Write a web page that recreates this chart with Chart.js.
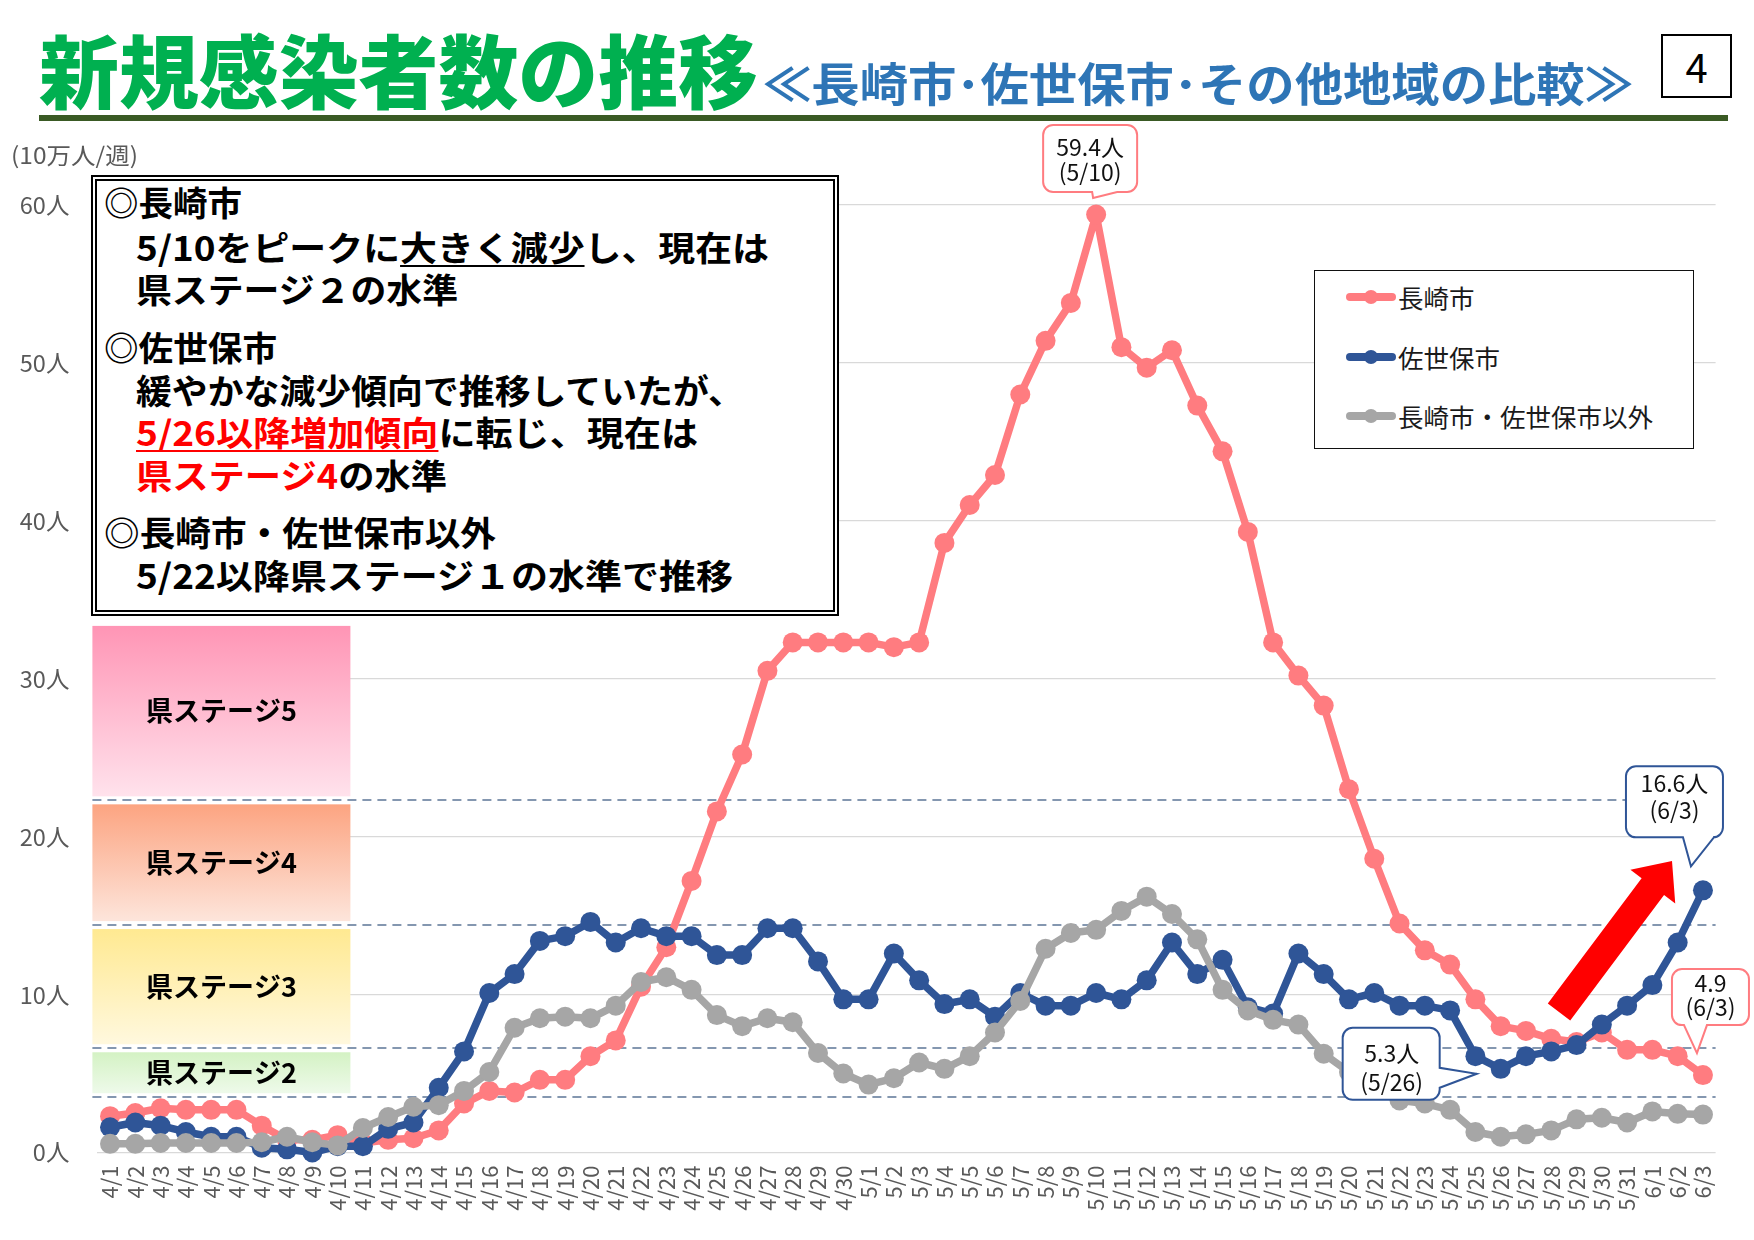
<!DOCTYPE html>
<html>
<head>
<meta charset="utf-8">
<script src="https://cdn.jsdelivr.net/npm/chart.js@4.4.0/dist/chart.umd.min.js"></script>
<style>
html,body{margin:0;padding:0;background:#fff;}
#wrap{position:relative;width:1754px;height:1240px;overflow:hidden;font-family:"Noto Sans CJK JP","Noto Sans",sans-serif;background:#fff;}
#c{position:absolute;left:0;top:0;}
.abs{position:absolute;white-space:nowrap;transform-origin:0 50%;}
.tl{font-size:34px;line-height:34px;font-weight:700;color:#000;}
.red{color:#ff0000;}
.ul{text-decoration:underline;text-decoration-thickness:2px;text-underline-offset:4px;}
#tbox{position:absolute;left:91px;top:175px;width:748px;height:441px;box-sizing:border-box;border:6px double #000;background:#fff;}
#pgnum{position:absolute;left:1661px;top:34px;width:71px;height:64px;box-sizing:border-box;border:2px solid #000;font-size:40px;line-height:60px;text-align:center;color:#000;background:#fff;}
#rule{position:absolute;left:39px;top:115px;width:1689px;height:6px;background:#3a5a24;}
#legend{position:absolute;left:1314px;top:270px;width:380px;height:179px;box-sizing:border-box;border:1.5px solid #111;background:#fff;}
.lg-line{position:absolute;left:1346px;width:50px;height:8px;border-radius:4px;}
.lg-dot{position:absolute;left:1364px;width:14px;height:14px;border-radius:7px;}
.lg-txt{position:absolute;left:1398px;font-size:25.5px;line-height:26px;color:#1a1a1a;white-space:nowrap;}
</style>
</head>
<body>
<div id="wrap">
<canvas id="c" width="1754" height="1240"></canvas>

<div class="abs fit" data-w="719" style="left:39px;top:27px;font-size:80px;line-height:80px;font-weight:900;color:#00b050;">新規感染者数の推移</div>
<div class="abs fit" data-w="870" style="left:763px;top:58px;font-size:46px;line-height:46px;font-weight:700;color:#2e75b6;">≪長崎市･佐世保市･その他地域の比較≫</div>
<div id="pgnum">4</div>
<div id="rule"></div>
<div class="abs fit" data-w="127" style="left:11px;top:143px;font-size:23px;line-height:23px;color:#595959;">(10万人/週)</div>

<div id="tbox"></div>
<div class="abs tl fit" data-w="138" style="left:104px;top:185px;">◎長崎市</div>
<div class="abs tl fit" data-w="633" style="left:136px;top:230px;">5/10をピークに<span class="ul">大きく減少</span>し、現在は</div>
<div class="abs tl fit" data-w="322" style="left:136px;top:272px;">県ステージ２の水準</div>
<div class="abs tl fit" data-w="173" style="left:104px;top:330px;">◎佐世保市</div>
<div class="abs tl fit" data-w="608" style="left:136px;top:373px;">緩やかな減少傾向で推移していたが、</div>
<div class="abs tl fit" data-w="562" style="left:136px;top:415px;"><span class="red ul">5/26以降増加傾向</span>に転じ、現在は</div>
<div class="abs tl fit" data-w="311" style="left:136px;top:458px;"><span class="red">県ステージ4</span>の水準</div>
<div class="abs tl fit" data-w="392" style="left:104px;top:515px;">◎長崎市・佐世保市以外</div>
<div class="abs tl fit" data-w="597" style="left:136px;top:558px;">5/22以降県ステージ１の水準で推移</div>

<div id="legend"></div>
<div class="lg-line" style="top:293px;background:#ff7c80;"></div><div class="lg-dot" style="top:290px;background:#ff7c80;"></div>
<div class="lg-txt" style="top:284px;">長崎市</div>
<div class="lg-line" style="top:353px;background:#2f5597;"></div><div class="lg-dot" style="top:350px;background:#2f5597;"></div>
<div class="lg-txt" style="top:344px;">佐世保市</div>
<div class="lg-line" style="top:412px;background:#a6a6a6;"></div><div class="lg-dot" style="top:409px;background:#a6a6a6;"></div>
<div class="lg-txt" style="top:403px;">長崎市・佐世保市以外</div>
</div>

<script>
// ---- data ----
const dates = ["4/1","4/2","4/3","4/4","4/5","4/6","4/7","4/8","4/9","4/10","4/11","4/12","4/13","4/14","4/15","4/16","4/17","4/18","4/19","4/20","4/21","4/22","4/23","4/24","4/25","4/26","4/27","4/28","4/29","4/30","5/1","5/2","5/3","5/4","5/5","5/6","5/7","5/8","5/9","5/10","5/11","5/12","5/13","5/14","5/15","5/16","5/17","5/18","5/19","5/20","5/21","5/22","5/23","5/24","5/25","5/26","5/27","5/28","5/29","5/30","5/31","6/1","6/2","6/3"];
const nagasaki = [2.3,2.5,2.8,2.7,2.7,2.7,1.7,0.8,0.8,1.1,0.6,0.8,0.9,1.4,3.1,3.9,3.8,4.6,4.6,6.1,7.1,10.5,13.0,17.2,21.6,25.2,30.5,32.3,32.3,32.3,32.3,32.0,32.3,38.6,41.0,42.9,48.0,51.4,53.8,59.4,51.0,49.7,50.8,47.3,44.4,39.3,32.3,30.2,28.3,23.0,18.6,14.5,12.8,11.9,9.7,8.0,7.7,7.2,7.0,7.6,6.5,6.5,6.1,4.9];
const sasebo = [1.6,1.9,1.7,1.3,1.0,1.0,0.3,0.2,0.0,0.4,0.4,1.5,1.9,4.1,6.4,10.1,11.3,13.4,13.7,14.6,13.3,14.2,13.7,13.7,12.5,12.5,14.2,14.2,12.1,9.7,9.7,12.6,10.9,9.4,9.7,8.6,10.1,9.3,9.3,10.1,9.7,10.9,13.3,11.3,12.2,9.2,8.8,12.6,11.3,9.7,10.1,9.3,9.3,9.0,6.1,5.3,6.1,6.4,6.8,8.1,9.3,10.6,13.3,16.6];
const others = [0.55,0.55,0.6,0.6,0.6,0.6,0.65,1.0,0.65,0.45,1.55,2.25,2.9,3.0,3.9,5.1,7.9,8.5,8.6,8.5,9.3,10.8,11.1,10.3,8.7,8.0,8.5,8.25,6.3,5.0,4.3,4.7,5.7,5.3,6.1,7.6,9.6,12.9,13.9,14.1,15.3,16.2,15.1,13.5,10.3,9.0,8.4,8.1,6.25,5.1,4.2,3.3,3.1,2.7,1.3,1.0,1.15,1.4,2.1,2.2,1.9,2.6,2.45,2.4];
const seriesNames = ["長崎市","佐世保市","長崎市・佐世保市以外"];
const yTickValues = [0,10,20,30,40,50,60];
const yUnit = "人";
const stageLevels = [3.5, 6.6, 14.4, 22.3, 33.6];   // stage 2..5 band edges
const stageNames = ["県ステージ2","県ステージ3","県ステージ4","県ステージ5"];
const callouts = [
  {series:0, index:39, lines:["59.4人","(5/10)"]},
  {series:1, index:63, lines:["16.6人","(6/3)"]},
  {series:1, index:55, lines:["5.3人","(5/26)"]},
  {series:0, index:63, lines:["4.9","(6/3)"]}
];

const FONT = '"Noto Sans CJK JP","Noto Sans",sans-serif';
Chart.defaults.font.family = FONT;

const stageColors = [["#d4f2c4","#eefaea"],["#ffe991","#fff8de"],["#fca481","#fde5db"],["#ff95b5","#ffe2ec"]];

const stagePlugin = {
  id:'stages',
  beforeDatasetsDraw(chart){
    const {ctx, chartArea:a, scales:{y}} = chart;
    const x0 = a.left - 5, x1 = a.left + 253;
    ctx.save();
    for(let i=0;i<stageNames.length;i++){
      const top = y.getPixelForValue(stageLevels[i+1]) + 4;
      const bot = y.getPixelForValue(stageLevels[i]) - 4;
      const g = ctx.createLinearGradient(0, top, 0, bot);
      g.addColorStop(0, stageColors[i][0]);
      g.addColorStop(1, stageColors[i][1]);
      ctx.fillStyle = g;
      ctx.fillRect(x0, top, x1-x0, bot-top);
      ctx.fillStyle = '#000';
      ctx.font = 'bold 27px ' + FONT;
      ctx.textAlign = 'center';
      ctx.textBaseline = 'middle';
      ctx.fillText(stageNames[i], (x0+x1)/2, (top+bot)/2);
    }
    ctx.strokeStyle = '#8497b0';
    ctx.lineWidth = 2.2;
    ctx.setLineDash([9,6]);
    for(let i=0;i<4;i++){
      const yy = Math.round(y.getPixelForValue(stageLevels[i]));
      ctx.beginPath();
      ctx.moveTo(x0, yy);
      ctx.lineTo(a.right, yy);
      ctx.stroke();
    }
    ctx.restore();
  }
};

// callout geometry relative to the anchored point (layout only)
const calloutGeom = [
  {color:'#ff7c80', box:[-53,-89.5,94,67], side:'bottom', base:[-4,21], tip:[-3,-16.5], tx:-6, ty:[-67.5,-42.5]},
  {color:'#2f5597', box:[-77,-124,97,71], side:'bottom', base:[-20,11], tip:[-12,-24], tx:-28.5, ty:[-107,-80]},
  {color:'#2f5597', box:[-158,-41,97,72], side:'right', base:[-1,19], tip:[-24,5], tx:-109, ty:[-16,13]},
  {color:'#ff7c80', box:[-31,-106,77,56], side:'bottom', base:[-19,4], tip:[-6,-22], tx:7.5, ty:[-92,-68]}
];

function roundedCallout(ctx, px, py, g){
  const x = px+g.box[0], y = py+g.box[1], w = g.box[2], h = g.box[3], r = 10;
  ctx.beginPath();
  ctx.moveTo(x+r, y);
  ctx.lineTo(x+w-r, y);
  ctx.arcTo(x+w, y, x+w, y+r, r);
  if(g.side==='right'){
    ctx.lineTo(x+w, py+g.base[0]);
    ctx.lineTo(px+g.tip[0], py+g.tip[1]);
    ctx.lineTo(x+w, py+g.base[1]);
  }
  ctx.lineTo(x+w, y+h-r);
  ctx.arcTo(x+w, y+h, x+w-r, y+h, r);
  if(g.side==='bottom'){
    ctx.lineTo(px+g.base[1], y+h);
    ctx.lineTo(px+g.tip[0], py+g.tip[1]);
    ctx.lineTo(px+g.base[0], y+h);
  }
  ctx.lineTo(x+r, y+h);
  ctx.arcTo(x, y+h, x, y+h-r, r);
  ctx.lineTo(x, y+r);
  ctx.arcTo(x, y, x+r, y, r);
  ctx.closePath();
  ctx.fillStyle = '#fff';
  ctx.fill();
  ctx.strokeStyle = g.color;
  ctx.lineWidth = 2;
  ctx.stroke();
}

const annotPlugin = {
  id:'annot',
  afterDatasetsDraw(chart){
    const ctx = chart.ctx;
    ctx.save();
    // red arrow (decoration)
    const T = [1559,1012], P = [1672,861];
    const dx = P[0]-T[0], dy = P[1]-T[1], L = Math.hypot(dx,dy);
    const u = [dx/L, dy/L], n = [-u[1], u[0]];
    const sw = 14, hw = 28, hl = 32;
    const H = [P[0]-u[0]*hl, P[1]-u[1]*hl];
    ctx.beginPath();
    ctx.moveTo(T[0]+n[0]*sw, T[1]+n[1]*sw);
    ctx.lineTo(H[0]+n[0]*sw, H[1]+n[1]*sw);
    ctx.lineTo(H[0]+n[0]*hw, H[1]+n[1]*hw);
    ctx.lineTo(P[0], P[1]);
    ctx.lineTo(H[0]-n[0]*hw, H[1]-n[1]*hw);
    ctx.lineTo(H[0]-n[0]*sw, H[1]-n[1]*sw);
    ctx.lineTo(T[0]-n[0]*sw, T[1]-n[1]*sw);
    ctx.closePath();
    ctx.fillStyle = '#ff0000';
    ctx.fill();
    // callouts
    callouts.forEach((c, k) => {
      const el = chart.getDatasetMeta(c.series).data[c.index];
      const px = el.x, py = el.y, g = calloutGeom[k];
      roundedCallout(ctx, px, py, g);
      ctx.fillStyle = '#111';
      ctx.font = '23px ' + FONT;
      ctx.textAlign = 'center';
      ctx.textBaseline = 'middle';
      c.lines.forEach((t, j) => ctx.fillText(t, px+g.tx, py+g.ty[j]));
    });
    ctx.restore();
  }
};

const colors = ['#ff7c80','#2f5597','#a6a6a6'];
const seriesData = [nagasaki, sasebo, others];
const chart = new Chart(document.getElementById('c'), {
  type:'line',
  data:{
    labels: dates,
    datasets: seriesData.map((d,i)=>({
      label: seriesNames[i], data: d,
      borderColor: colors[i], backgroundColor: colors[i],
      pointBackgroundColor: colors[i], pointBorderWidth: 0,
      pointRadius: 10, pointHoverRadius: 10,
      borderWidth: 7.5, tension: 0, clip: false,
      borderCapStyle:'round', borderJoinStyle:'round',
      order: 2 - i
    }))
  },
  options:{
    responsive:false, animation:false, devicePixelRatio:1,
    layout:{padding:{left:0, right:38.4, top:205, bottom:0}},
    plugins:{legend:{display:false}, tooltip:{enabled:false}},
    events:[],
    scales:{
      x:{
        offset:true,
        grid:{display:false, drawTicks:false},
        border:{display:false},
        ticks:{autoSkip:false, minRotation:90, maxRotation:90, padding:13, color:'#595959', font:{size:22, family:FONT}},
        afterFit(s){ s.height = 87.5; }
      },
      y:{
        min:0, max:60,
        afterBuildTicks(s){ s.ticks = yTickValues.map(v=>({value:v})); },
        ticks:{padding:28, color:'#595959', font:{size:23.5, family:FONT}, callback:v=>v+yUnit},
        grid:{color:'#d9d9d9', lineWidth:1.3, drawTicks:false},
        border:{display:false},
        afterFit(s){ s.width = 97.4; }
      }
    }
  },
  plugins:[stagePlugin, annotPlugin]
});

function fitAll(){
  document.querySelectorAll('.fit').forEach(el=>{
    el.style.transform='none';
    const w = el.getBoundingClientRect().width;
    const t = +el.dataset.w;
    if(w>0) el.style.transform = 'scaleX(' + (t/w) + ')';
  });
}
fitAll();
if(document.fonts && document.fonts.ready){ document.fonts.ready.then(()=>{ fitAll(); chart.update(); }); }
</script>
</body>
</html>
